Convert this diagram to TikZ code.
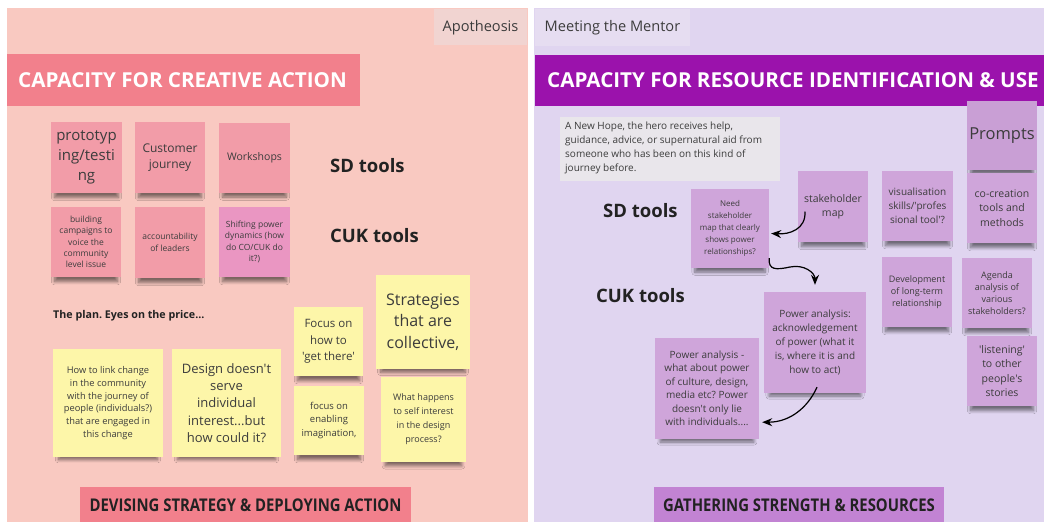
\documentclass[tikz,border=0pt]{standalone}
\usepackage{fontspec}
\setmainfont[Ligatures=TeXOff]{Open Sans}
\newfontfamily\condfont[FakeStretch=0.85]{Open Sans}
\usetikzlibrary{arrows.meta,shadows.blur}
\frenchspacing

\definecolor{pinkbg}{HTML}{F9C9C1}
\definecolor{lilacbg}{HTML}{E0D5F0}
\definecolor{pinktab}{HTML}{F1D4D1}
\definecolor{lilactab}{HTML}{E6DDF1}
\definecolor{pinkbar}{HTML}{F2808C}
\definecolor{purplebar}{HTML}{9B12AC}
\definecolor{lilacbar}{HTML}{C283D3}
\definecolor{notepink}{HTML}{F29CA8}
\definecolor{notemagenta}{HTML}{EA96C2}
\definecolor{noteyellow}{HTML}{FDF6A9}
\definecolor{notepurple}{HTML}{CFA5DA}
\definecolor{notepurpledark}{HTML}{C99FD5}
\definecolor{notegrey}{HTML}{E9E6EB}
\definecolor{inktext}{HTML}{3C3C3C}
\definecolor{darktext}{HTML}{222222}

\newcommand\fsz[2]{\fontsize{#1}{#2}\selectfont}

\tikzset{
  note/.style={inner sep=0pt, align=center, text=inktext,
    blur shadow={shadow xshift=0pt, shadow yshift=-9pt, shadow scale=0.9,
                 shadow opacity=50, shadow blur radius=3.5pt, shadow blur steps=8}},
  pinknote/.style={note, fill=notepink},
  magentanote/.style={note, fill=notemagenta},
  yellownote/.style={note, fill=noteyellow},
  purplenote/.style={note, fill=notepurple},
  sq/.style 2 args={minimum width=#1pt, minimum height=#2pt},
  tab/.style={inner sep=0pt, text=inktext, font=\fsz{14.6}{17}},
  titlebar/.style={inner sep=0pt, anchor=west, text=white, font=\fsz{20.6}{24}\bfseries},
  footlabel/.style={inner sep=0pt, text=darktext, font=\condfont\bfseries\fsz{17.5}{20}},
  toollabel/.style={inner sep=0pt, anchor=west, text=darktext, font=\fsz{18.5}{22}\bfseries},
  conn/.style={draw=black, line width=1.2pt, -{Stealth[length=10pt,width=8pt]}},
}

\begin{document}
\begin{tikzpicture}[x=1pt,y=-1pt]
\useasboundingbox (0,0) rectangle (1044,522);
\clip (0,0) rectangle (1044,522);
\fill[white] (0,0) rectangle (1044,522);

% panels
\fill[pinkbg] (7,8) rectangle (528,522);
\fill[lilacbg] (534,8) rectangle (1044,522);

% tabs
\fill[pinktab] (434,9) rectangle (527,45);
\node[tab] (apotheosis) at (480.5,27.5) {Apotheosis};
\fill[lilactab] (535,9) rectangle (690,46);
\node[tab] (mentor) at (612.5,27.5) {Meeting the Mentor};

% title bars
\fill[pinkbar] (7,54) rectangle (360,106);
\node[titlebar] (leftTitle) at (18,80.5) {CAPACITY FOR CREATIVE ACTION};
\fill[purplebar] (535,55) rectangle (1044,106);
\node[titlebar] (rightTitle) at (547,80.5) {CAPACITY FOR RESOURCE IDENTIFICATION \& USE};

% footer labels
\fill[pinkbar] (80,487) rectangle (411,522);
\node[footlabel] (leftFoot) at (245.5,505) {DEVISING STRATEGY \& DEPLOYING ACTION};
\fill[lilacbar] (654,487) rectangle (944,522);
\node[footlabel] (rightFoot) at (799,505) {GATHERING STRENGTH \& RESOURCES};

% ---- left board: tool notes
\node[pinknote, sq={71}{71}, font=\fsz{15}{20}] (proto) at (86.5,157.5) {prototyp\\ing/testi\\ng};
\node[pinknote, sq={70}{71}, font=\fsz{12}{16}] (customer) at (170,157.5) {Customer\\journey};
\node[pinknote, sq={71}{70}, font=\fsz{10.5}{13}] (workshops) at (254.5,157.5) {Workshops};
\node[pinknote, sq={70}{70}, font=\fsz{8.5}{11.4}] (campaigns) at (86,242) {building\\campaigns to\\voice the\\community\\level issue};
\node[pinknote, sq={70}{71}, font=\fsz{8.5}{11.4}] (accountability) at (170,242.5) {accountability\\of leaders};
\node[magentanote, sq={71}{70}, font=\fsz{8.5}{11.4}] (shifting) at (254.5,242) {Shifting power\\dynamics (how\\do CO/CUK do\\it?)};

\node[toollabel] (leftSD) at (330,166) {SD tools};
\node[toollabel] (leftCUK) at (330,236) {CUK tools};

\node[inner sep=0pt, anchor=west, text=darktext, font=\fsz{10.7}{13}\bfseries] (plan) at (53,316) {The plan. Eyes on the price...};

% ---- left board: plan notes
\node[yellownote, sq={110}{108}, font=\fsz{9.3}{12.8}] (link) at (108,403) {How to link change\\in the community\\with the journey of\\people (individuals?)\\that are engaged in\\this change};
\node[yellownote, sq={109}{108}, font=\fsz{13}{17.3}] (design) at (226.5,403) {Design doesn't\\serve\\individual\\interest...but\\how could it?};
\node[yellownote, sq={69}{69}, font=\fsz{11.5}{16.5}] (getthere) at (328.5,341.5) {Focus on\\how to\\'get there'};
\node[yellownote, sq={94}{94}, font=\fsz{16}{21.5}] (collective) at (423,322) {Strategies\\that are\\collective,};
\node[yellownote, sq={70}{69}, font=\fsz{9.5}{13.5}] (imagination) at (329,420.5) {focus on\\enabling\\imagination,};
\node[yellownote, sq={85}{85}, font=\fsz{9}{14}] (selfinterest) at (423.5,419.5) {What happens\\to self interest\\in the design\\process?};

% ---- right board
\node[inner sep=0pt, fill=notegrey, minimum width=220pt, minimum height=64pt] (hopebox) at (670,149) {};
\node[inner sep=0pt, anchor=north west, align=left, text=inktext, font=\fsz{10}{14}] (hope) at (565,121.5) {A New Hope, the hero receives help,\\guidance, advice, or supernatural aid from\\someone who has been on this kind of\\journey before.};

\node[toollabel] (rightSD) at (603,211) {SD tools};
\node[toollabel] (rightCUK) at (596,296) {CUK tools};

\node[purplenote, fill=notepurpledark, sq={70}{69}, font=\fsz{16.5}{19}] (prompts) at (1002,135.5) {Prompts};
\node[purplenote, sq={78}{79}, font=\fsz{8}{12}] (needmap) at (730,228.5) {Need\\stakeholder\\map that clearly\\shows power\\relationships?};
\node[purplenote, sq={70}{71}, font=\fsz{10.5}{14}] (stakemap) at (833,206.5) {stakeholder\\map};
\node[purplenote, sq={71}{70}, font=\fsz{10}{14}] (visual) at (917.5,206) {visualisation\\skills/'profes\\sional tool'?};
\node[purplenote, sq={70}{70}, font=\fsz{10.5}{14.5}] (cocreation) at (1002,208) {co-creation\\tools and\\methods};
\node[purplenote, sq={70}{70}, font=\fsz{9}{12}] (longterm) at (917,292) {Development\\of long-term\\relationship};
\node[purplenote, sq={70}{70}, font=\fsz{9}{12}] (agenda) at (997,293) {Agenda\\analysis of\\various\\stakeholders?};
\node[purplenote, sq={70}{70}, font=\fsz{10.5}{14.5}] (listening) at (1002,371) {'listening'\\to other\\people's\\stories};
\node[purplenote, sq={102}{101}, font=\fsz{10}{13.8}] (powerack) at (815,342.5) {Power analysis:\\acknowledgement\\of power (what it\\is, where it is and\\how to act)};
\node[purplenote, sq={104}{101}, font=\fsz{10}{13.5}] (powerculture) at (707,388.5) {Power analysis -\\what about power\\of culture, design,\\media etc? Power\\doesn't only lie\\with individuals....};

% connectors
\coordinate (a1s) at ([xshift=-28pt,yshift=-5pt]stakemap.center);
\coordinate (a1e) at ([xshift=2pt,yshift=-5pt]needmap.east);
\draw[conn] (a1s) .. controls +(1,18) and +(18,1) .. (a1e);

\coordinate (a2s) at ([xshift=0pt,yshift=10pt]needmap.south east);
\coordinate (a2e) at ([yshift=7pt]powerack.north);
\draw[conn] (a2s) .. controls +(-1,12) and +(-14,3) .. (790,267) .. controls +(14,-3) and +(0,-12) .. (a2e);

\coordinate (a3s) at ([xshift=2pt,yshift=6pt]powerack.south);
\coordinate (a3e) at ([xshift=3pt,yshift=17pt]powerculture.south east);
\draw[conn] (a3s) .. controls +(-9,20) and +(28,0) .. (a3e);
\end{tikzpicture}
\end{document}
